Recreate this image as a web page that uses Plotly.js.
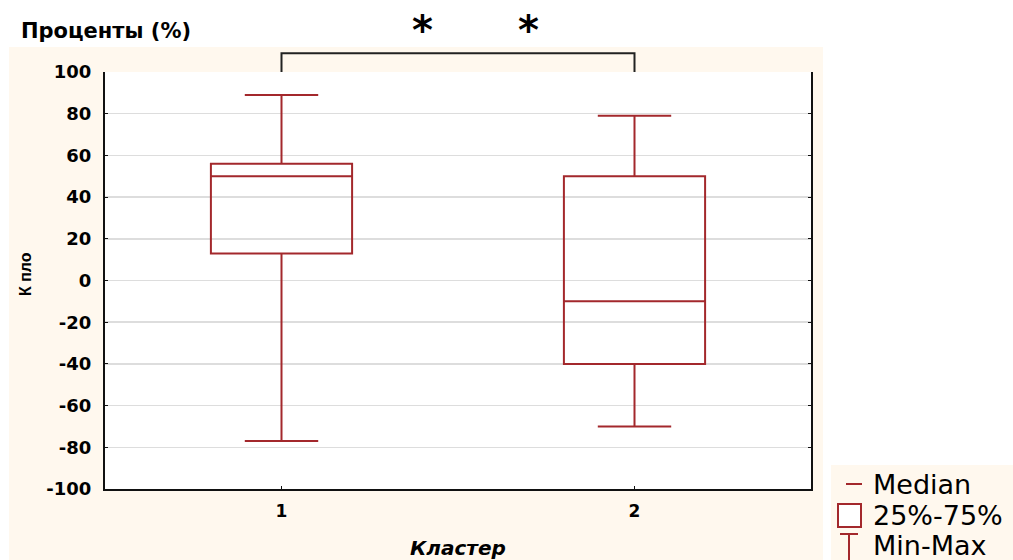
<!DOCTYPE html>
<html>
<head>
<meta charset="utf-8">
<script src="https://cdn.plot.ly/plotly-3.0.1.min.js"></script>
<style>html,body{margin:0;padding:0;background:#fff;}#chart{width:1013px;height:560px;}</style>
</head>
<body>
<div id="chart"></div>
<script>
// ---- data ----
const clusters = [1, 2];
const clusterLabels = ['1', '2'];
const minVals = [-77, -70];
const q1Vals = [13, -40];
const medianVals = [50, -10];
const q3Vals = [56, 50];
const maxVals = [89, 79];
const yTicks = [-100, -80, -60, -40, -20, 0, 20, 40, 60, 80, 100];
const yTickLabels = ['-100', '-80', '-60', '-40', '-20', '0', '20', '40', '60', '80', '100'];
const sigLevel = 109;
const starPositions = [1.40, 1.70];
const legendLabels = ['Median', '25%-75%', 'Min-Max'];

// ---- geometry helpers (plot area in px) ----
const W = 1013, H = 560;
const L = 105, R = 811, T = 72, B = 489;
const px = x => (x - L) / (R - L);
const py = y => (B - y) / (B - T);
const yMin = yTicks[0], yMax = yTicks[yTicks.length - 1];
const yv = v => (v - yMin) / (yMax - yMin);   // data value -> paper fraction

const red = '#A3282C';
const cream = '#FFF8EE';

const boxTrace = {
  type: 'box',
  x: clusters,
  q1: q1Vals,
  median: medianVals,
  q3: q3Vals,
  lowerfence: minVals,
  upperfence: maxVals,
  boxpoints: false,
  width: 0.4,
  whiskerwidth: 0.52,
  fillcolor: 'rgba(255,255,255,0)',
  line: {color: red, width: 2},
  hoverinfo: 'skip',
  showlegend: false
};

const shapes = [
  {type: 'rect', xref: 'paper', yref: 'paper', x0: px(9), x1: px(823), y0: py(47), y1: py(560),
   fillcolor: cream, line: {width: 0}, layer: 'below'},
  {type: 'rect', xref: 'paper', yref: 'paper', x0: px(831), x1: px(1013), y0: py(465), y1: py(560),
   fillcolor: cream, line: {width: 0}, layer: 'below'},
  {type: 'rect', xref: 'paper', yref: 'paper', x0: 0, x1: 1, y0: 0, y1: 1,
   fillcolor: '#fff', line: {width: 0}, layer: 'below'},
  // significance bracket between the two clusters
  {type: 'path', xref: 'x', yref: 'paper',
   path: 'M ' + clusters[0] + ',' + yv(yMax) + ' L ' + clusters[0] + ',' + yv(sigLevel) +
         ' L ' + clusters[1] + ',' + yv(sigLevel) + ' L ' + clusters[1] + ',' + yv(yMax),
   line: {color: '#222', width: 2}},
  // legend symbols
  {type: 'line', xref: 'paper', yref: 'paper', x0: px(846), x1: px(862), y0: py(484), y1: py(484),
   line: {color: red, width: 2}},
  {type: 'rect', xref: 'paper', yref: 'paper', x0: px(838), x1: px(861), y0: py(504), y1: py(527),
   fillcolor: '#fff', line: {color: red, width: 2}},
  {type: 'line', xref: 'paper', yref: 'paper', x0: px(840), x1: px(858), y0: py(534), y1: py(534),
   line: {color: red, width: 2}},
  {type: 'line', xref: 'paper', yref: 'paper', x0: px(849), x1: px(849), y0: py(534), y1: py(562),
   line: {color: red, width: 2}}
];

const annotations = [
  {xref: 'paper', yref: 'paper', x: px(19), y: py(31), xanchor: 'left', yanchor: 'middle',
   text: '<b>Проценты (%)</b>', showarrow: false,
   font: {family: 'DejaVu Sans', size: 21, color: '#000'}},
  {xref: 'paper', yref: 'paper', x: px(25), y: py(274), xanchor: 'center', yanchor: 'middle',
   text: '<b>К пло</b>', textangle: -90, showarrow: false,
   font: {family: 'Liberation Sans', size: 16, color: '#000'}},
  {xref: 'paper', yref: 'paper', x: 0.5, y: py(548), xanchor: 'center', yanchor: 'middle',
   text: '<b><i>Кластер</i></b>', showarrow: false,
   font: {family: 'DejaVu Sans', size: 20, color: '#000'}}
];
starPositions.forEach(s => annotations.push({
  xref: 'x', yref: 'paper', x: s, y: py(30), xanchor: 'center', yanchor: 'middle',
  text: '<b>*</b>', showarrow: false, font: {family: 'DejaVu Sans', size: 40, color: '#000'}
}));
const legendY = [484, 515, 545];
legendLabels.forEach((t, i) => annotations.push({
  xref: 'paper', yref: 'paper', x: px(871), y: py(legendY[i]), xanchor: 'left', yanchor: 'middle',
  text: t, showarrow: false, font: {family: 'DejaVu Sans', size: 27, color: '#000'}
}));

const layout = {
  width: W, height: H,
  margin: {l: L, r: W - R, t: T, b: H - B, pad: 0},
  paper_bgcolor: '#fff',
  plot_bgcolor: '#fff',
  showlegend: false,
  xaxis: {
    range: [0.5, 2.5], tickvals: clusters, ticktext: clusterLabels,
    showgrid: false, zeroline: false, showline: true, linecolor: '#111', linewidth: 2,
    ticks: 'inside', ticklen: 3, tickcolor: '#111', ticklabelstandoff: 6,
    tickfont: {family: 'DejaVu Sans', size: 17, color: '#000', weight: 'bold'},
    fixedrange: true
  },
  yaxis: {
    range: [yMin, yMax], tickvals: yTicks, ticktext: yTickLabels,
    showgrid: true, gridcolor: '#DDDDDD', gridwidth: 1.5, zeroline: false,
    showline: true, mirror: 'ticks', linecolor: '#111', linewidth: 2,
    ticks: 'inside', ticklen: 3, tickcolor: '#111', ticklabelstandoff: 8,
    tickfont: {family: 'DejaVu Sans', size: 18, color: '#000', weight: 'bold'},
    fixedrange: true
  },
  shapes: shapes,
  annotations: annotations
};

Plotly.newPlot('chart', [boxTrace], layout, {displayModeBar: false, staticPlot: true});
</script>
</body>
</html>
